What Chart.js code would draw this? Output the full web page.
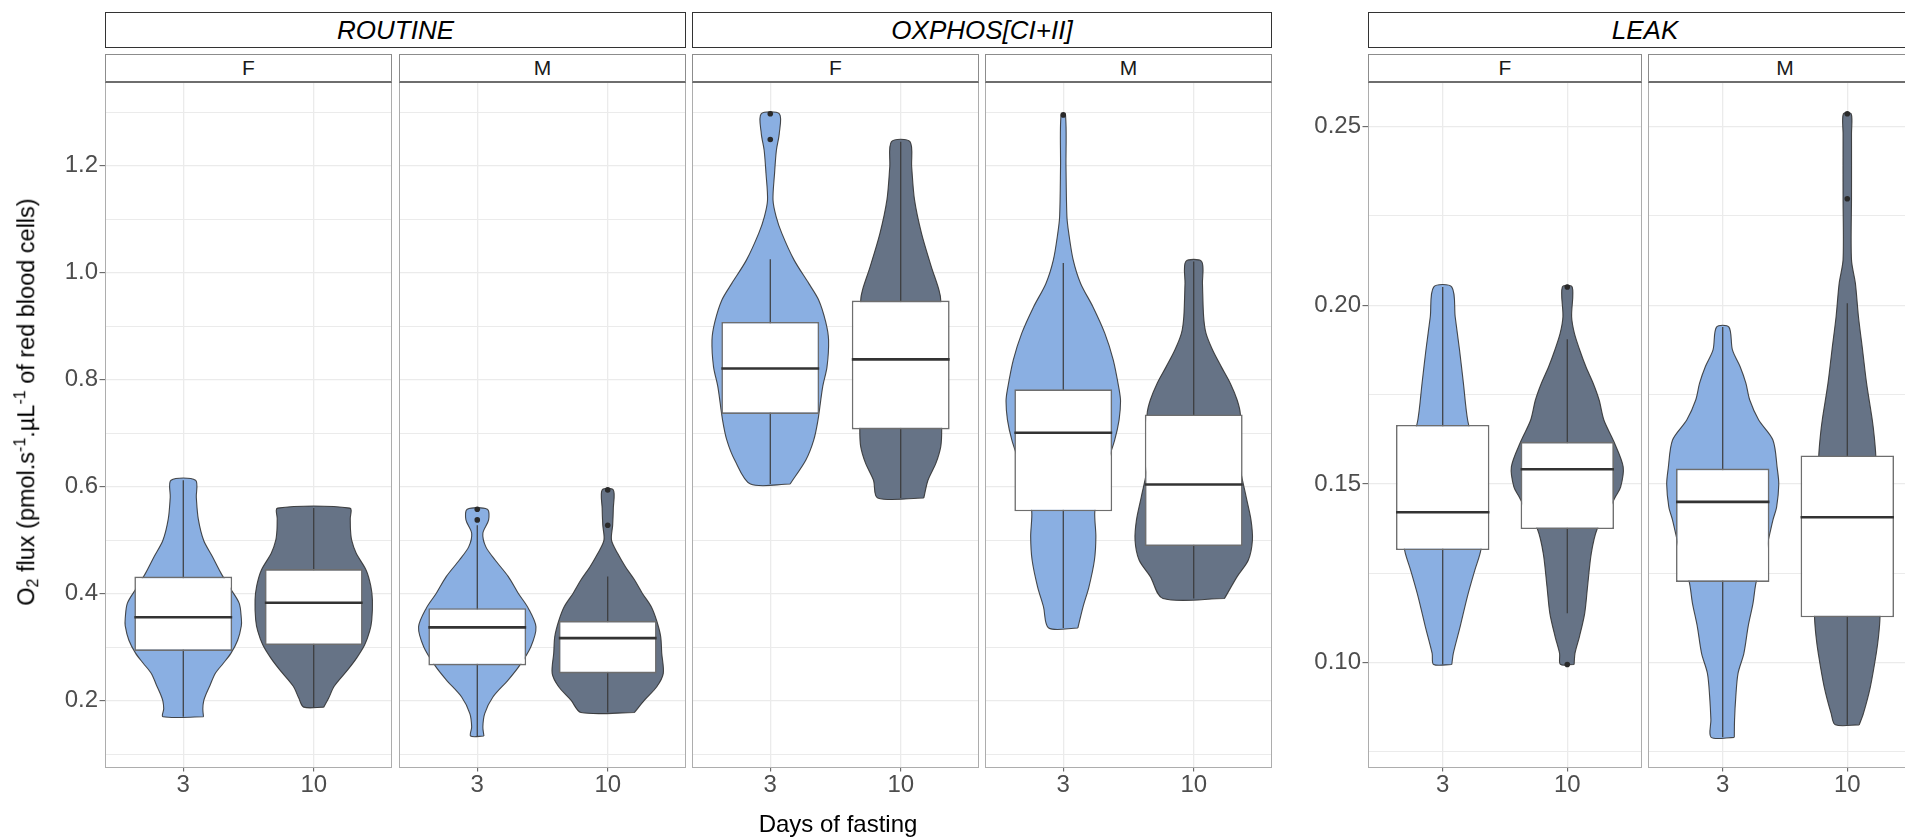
<!DOCTYPE html>
<html>
<head>
<meta charset="utf-8">
<title>O2 flux violin plots</title>
<script src="https://cdn.jsdelivr.net/npm/chart.js@4.4.1/dist/chart.umd.min.js"></script>
<style>
html, body { margin:0; padding:0; background:#fff; }
body { position:relative; width:1905px; height:839px; overflow:hidden; font-family:"Liberation Sans", Arial, Helvetica, sans-serif; }
canvas { position:absolute; z-index:1; }
.strip { position:absolute; box-sizing:border-box; background:#fff; display:flex; align-items:center; justify-content:center; white-space:nowrap; z-index:3; }
.strip.main { border:1.3px solid #333; font-style:italic; font-size:26px; color:#000; }
.strip.sub { border:1.5px solid #8c8c8c; border-bottom:2px solid #6e6e6e; font-size:21px; color:#1a1a1a; }
.frame { position:absolute; box-sizing:border-box; border:1.5px solid #adadad; pointer-events:none; z-index:2; }
.title { position:absolute; white-space:nowrap; color:#000; font-size:24px; line-height:1; z-index:4; }
.title sub { font-size:0.68em; vertical-align:-0.25em; line-height:0; }
.title sup { font-size:0.68em; vertical-align:0.55em; line-height:0; }
#ytitle { left:27px; top:402px; transform:translate(-50%,-50%) rotate(-90deg); font-size:23.5px; }
#xtitle { left:838px; top:812px; transform:translateX(-50%); }
</style>
</head>
<body>
<div id="ytitle" class="title">O<sub>2</sub> flux (pmol.s<sup>-1</sup>.µL<sup>-1</sup> of red blood cells)</div>
<div id="xtitle" class="title">Days of fasting</div>
<script>
// ---------------- DATA ----------------
const groups = ['ROUTINE', 'OXPHOS[CI+II]', 'LEAK'];
const sexes = ['F', 'M'];
const days = ['3', '10'];

const fluxTicks = [0.2, 0.4, 0.6, 0.8, 1.0, 1.2];
const fluxMinor = [0.1, 0.3, 0.5, 0.7, 0.9, 1.1, 1.3];
const fluxRange = [0.0761, 1.3546];
const leakTicks = [0.10, 0.15, 0.20, 0.25];
const leakMinor = [0.075, 0.125, 0.175, 0.225];
const leakRange = [0.0708, 0.2622];

// box statistics per day (3, 10): [lower whisker, Q1, median, Q3, upper whisker]
const routineF_box = [[0.170, 0.293, 0.356, 0.432, 0.612], [0.188, 0.304, 0.383, 0.446, 0.560]];
const routineM_box = [[0.134, 0.266, 0.337, 0.373, 0.528], [0.178, 0.251, 0.317, 0.349, 0.432]];
const oxphosF_box = [[0.605, 0.736, 0.821, 0.908, 1.025], [0.579, 0.707, 0.838, 0.948, 1.245]];
const oxphosM_box = [[0.336, 0.554, 0.701, 0.782, 1.018], [0.391, 0.489, 0.604, 0.735, 1.021]];
const leakF_box = [[0.0995, 0.1315, 0.1421, 0.1665, 0.2051], [0.1138, 0.1374, 0.1541, 0.1618, 0.1905]];
const leakM_box = [[0.0791, 0.1226, 0.1450, 0.1543, 0.1939], [0.0826, 0.1127, 0.1407, 0.1580, 0.2006]];

// outliers per day (3, 10)
const routineF_out = [[], []];
const routineM_out = [[0.538, 0.558], [0.528, 0.594]];
const oxphosF_out = [[1.249, 1.297], []];
const oxphosM_out = [[1.295], []];
const leakF_out = [[], [0.0995, 0.2051]];
const leakM_out = [[], [0.2298, 0.2536]];

// violin outlines, bottom to top: [value, half width in x units]
const routineF_v3 = [[0.170,0.155],[0.185,0.150],[0.200,0.157],[0.213,0.176],[0.230,0.207],[0.251,0.245],[0.270,0.307],[0.289,0.366],[0.313,0.417],[0.340,0.445],[0.354,0.445],[0.382,0.429],[0.410,0.360],[0.438,0.290],[0.470,0.222],[0.500,0.156],[0.540,0.115],[0.580,0.100],[0.612,0.094]];
const routineF_v10 = [[0.188,0.077],[0.205,0.115],[0.227,0.157],[0.258,0.262],[0.280,0.330],[0.304,0.390],[0.330,0.429],[0.351,0.445],[0.388,0.450],[0.415,0.437],[0.444,0.402],[0.476,0.325],[0.500,0.291],[0.519,0.282],[0.540,0.280],[0.560,0.277]];
const routineM_v3 = [[0.134,0.051],[0.151,0.043],[0.176,0.057],[0.207,0.120],[0.239,0.238],[0.266,0.325],[0.301,0.411],[0.338,0.450],[0.373,0.391],[0.401,0.314],[0.432,0.238],[0.463,0.137],[0.488,0.065],[0.513,0.043],[0.538,0.087],[0.558,0.077]];
const routineM_v10 = [[0.178,0.205],[0.201,0.282],[0.226,0.376],[0.251,0.426],[0.289,0.414],[0.320,0.406],[0.349,0.376],[0.376,0.333],[0.401,0.265],[0.426,0.205],[0.450,0.137],[0.475,0.077],[0.500,0.029],[0.528,0.038],[0.560,0.043],[0.594,0.043]];
const oxphosF_v3 = [[0.605,0.152],[0.650,0.273],[0.687,0.333],[0.725,0.366],[0.787,0.402],[0.824,0.435],[0.874,0.447],[0.908,0.425],[0.949,0.371],[0.980,0.295],[1.024,0.182],[1.074,0.088],[1.105,0.045],[1.136,0.021],[1.186,0.033],[1.229,0.047],[1.260,0.069],[1.297,0.070]];
const oxphosF_v10 = [[0.579,0.177],[0.612,0.209],[0.644,0.270],[0.675,0.307],[0.707,0.314],[0.760,0.307],[0.830,0.295],[0.900,0.295],[0.948,0.307],[0.968,0.293],[1.011,0.235],[1.074,0.159],[1.136,0.106],[1.198,0.084],[1.245,0.071]];
const oxphosM_v3 = [[0.336,0.112],[0.376,0.152],[0.413,0.197],[0.463,0.239],[0.507,0.250],[0.554,0.242],[0.600,0.284],[0.650,0.345],[0.687,0.394],[0.725,0.428],[0.760,0.439],[0.782,0.428],[0.837,0.383],[0.887,0.318],[0.936,0.228],[0.980,0.133],[1.024,0.076],[1.074,0.042],[1.105,0.028],[1.198,0.021],[1.295,0.017]];
const oxphosM_v10 = [[0.391,0.236],[0.432,0.333],[0.463,0.419],[0.500,0.450],[0.538,0.439],[0.581,0.402],[0.640,0.353],[0.700,0.345],[0.735,0.358],[0.762,0.333],[0.793,0.281],[0.824,0.212],[0.856,0.144],[0.887,0.094],[0.918,0.076],[0.980,0.067],[1.021,0.061]];
const leakF_v3 = [[0.0995,0.073],[0.1026,0.085],[0.1101,0.140],[0.1185,0.198],[0.1259,0.258],[0.1315,0.306],[0.1400,0.329],[0.1500,0.321],[0.1600,0.257],[0.1679,0.200],[0.1782,0.166],[0.1875,0.135],[0.1968,0.100],[0.2051,0.073]];
const leakF_v10 = [[0.0995,0.055],[0.1026,0.062],[0.1073,0.098],[0.1138,0.140],[0.1213,0.163],[0.1306,0.193],[0.1374,0.240],[0.1420,0.321],[0.1464,0.387],[0.1492,0.429],[0.1548,0.449],[0.1618,0.375],[0.1679,0.294],[0.1735,0.256],[0.1782,0.208],[0.1828,0.150],[0.1875,0.100],[0.1922,0.057],[0.1968,0.035],[0.2051,0.040]];
const leakM_v3 = [[0.0791,0.093],[0.0840,0.095],[0.0905,0.105],[0.0970,0.123],[0.1026,0.170],[0.1101,0.204],[0.1166,0.243],[0.1226,0.269],[0.1300,0.337],[0.1399,0.403],[0.1436,0.433],[0.1499,0.450],[0.1543,0.438],[0.1623,0.403],[0.1679,0.289],[0.1735,0.217],[0.1782,0.186],[0.1828,0.140],[0.1875,0.078],[0.1939,0.050]];
const leakM_v10 = [[0.0826,0.096],[0.0858,0.130],[0.0933,0.186],[0.1026,0.233],[0.1073,0.251],[0.1127,0.263],[0.1250,0.265],[0.1400,0.249],[0.1580,0.229],[0.1632,0.217],[0.1679,0.201],[0.1782,0.155],[0.1875,0.123],[0.1968,0.090],[0.2062,0.065],[0.2127,0.034],[0.2300,0.034],[0.2481,0.034],[0.2536,0.031]];

// lookup tables built from the arrays above
const boxStats = [[routineF_box, routineM_box], [oxphosF_box, oxphosM_box], [leakF_box, leakM_box]];
const outliers = [[routineF_out, routineM_out], [oxphosF_out, oxphosM_out], [leakF_out, leakM_out]];
const violins = [[[routineF_v3, routineF_v10], [routineM_v3, routineM_v10]],
                 [[oxphosF_v3, oxphosF_v10], [oxphosM_v3, oxphosM_v10]],
                 [[leakF_v3, leakF_v10], [leakM_v3, leakM_v10]]];

// ---------------- LAYOUT & STYLE ----------------
const PANEL_TOP = 83, PANEL_H = 684;
const X_AXIS_H = 50, Y_AXIS_W = 80;
const X_MIN = 0.4, X_MAX = 2.6, BOX_HALF = 0.375;
const groupStrip = [{left:105, right:686}, {left:692, right:1272}, {left:1368, right:1922}];
const panelBox = [[{left:105, w:287}, {left:399, w:287}],
                  [{left:692, w:287}, {left:985, w:287}],
                  [{left:1368, w:274}, {left:1648, w:274}]];
const FILL = ['#8aafe2', '#667386'];
const OUTLINE = 'rgba(45,45,45,0.85)';
const GRID = '#ebebeb';
const TICK_COL = '#555';
const LABEL_COL = '#4d4d4d';
const TICK_FONT = 24;

Chart.defaults.font.family = '"Liberation Sans", Arial, Helvetica, sans-serif';

function addDiv(cls, left, top, w, h, text) {
  const d = document.createElement('div');
  d.className = cls;
  d.style.left = left + 'px'; d.style.top = top + 'px';
  d.style.width = w + 'px'; d.style.height = h + 'px';
  if (text) d.textContent = text;
  document.body.appendChild(d);
  return d;
}

function buildPanel(gi, si) {
  const pb = panelBox[gi][si];
  const isLeak = groups[gi] === 'LEAK';
  const major = isLeak ? leakTicks : fluxTicks;
  const minor = isLeak ? leakMinor : fluxMinor;
  const range = isLeak ? leakRange : fluxRange;
  const dec = isLeak ? 2 : 1;
  const showY = si === 0 && (gi === 0 || gi === 2);
  const padL = showY ? Y_AXIS_W : 0;
  const allTicks = major.concat(minor).sort((a, b) => a - b);
  const isMajor = v => major.some(m => Math.abs(m - v) < 1e-9);

  const canvas = document.createElement('canvas');
  const W = pb.w + padL, H = PANEL_H + X_AXIS_H;
  canvas.width = W; canvas.height = H;
  canvas.style.width = W + 'px'; canvas.style.height = H + 'px';
  canvas.style.left = (pb.left - padL) + 'px';
  canvas.style.top = PANEL_TOP + 'px';
  document.body.appendChild(canvas);

  const datasets = [];
  const stats = boxStats[gi][si];
  violins[gi][si].forEach((vio, i) => {
    const c = i + 1;
    const right = vio.map(([v, hw]) => ({x: c + hw, y: v}));
    const left = vio.slice().reverse().map(([v, hw]) => ({x: c - hw, y: v}));
    datasets.push({
      type: 'line', data: right.concat(left, [right[0]]),
      fill: 'shape', backgroundColor: FILL[i], borderColor: OUTLINE, borderWidth: 1.1,
      pointRadius: 0, tension: 0.3, order: 10
    });
    const [lo, q1, med, q3, hi] = stats[i];
    datasets.push({
      type: 'line', data: [{x: c, y: lo}, {x: c, y: hi}],
      borderColor: '#3a3a3a', borderWidth: 1.2, pointRadius: 0, fill: false, tension: 0, order: 8
    });
    datasets.push({
      type: 'line', data: [{x: c - BOX_HALF, y: med}, {x: c + BOX_HALF, y: med}],
      borderColor: '#333', borderWidth: 2.6, pointRadius: 0, fill: false, tension: 0, order: 4
    });
    const outs = outliers[gi][si][i];
    if (outs.length) {
      datasets.push({
        type: 'scatter', data: outs.map(v => ({x: c, y: v})),
        pointRadius: 2.8, pointBackgroundColor: '#2a2a2a', pointBorderWidth: 0, order: 2
      });
    }
  });
  datasets.push({
    type: 'bar', data: stats.map((b, i) => ({x: i + 1, y: [b[1], b[3]]})),
    backgroundColor: '#ffffff', borderColor: '#6e6e6e', borderWidth: 1.6, borderSkipped: false,
    barPercentage: 0.75, categoryPercentage: 1.0, order: 6
  });

  new Chart(canvas, {
    type: 'scatter',
    data: {datasets},
    options: {
      responsive: false, animation: false, devicePixelRatio: 1, events: [],
      layout: {padding: 0, autoPadding: false},
      plugins: {legend: {display: false}, tooltip: {enabled: false}},
      scales: {
        x: {
          type: 'linear', min: X_MIN, max: X_MAX, offset: false,
          afterBuildTicks: s => { s.ticks = days.map((d, k) => ({value: k + 1})); },
          afterFit: s => { s.height = X_AXIS_H; s.paddingLeft = 0; s.paddingRight = 0; },
          grid: {offset: false, color: GRID, lineWidth: 1.3, drawTicks: true, tickLength: 4.5, tickColor: TICK_COL, tickWidth: 1},
          border: {display: false},
          ticks: {
            autoSkip: false, maxRotation: 0, padding: 1.5, color: LABEL_COL,
            font: {size: TICK_FONT, lineHeight: 1},
            callback: v => days[Math.round(v) - 1]
          }
        },
        y: {
          type: 'linear', min: range[0], max: range[1],
          afterBuildTicks: s => { s.ticks = allTicks.map(v => ({value: v})); },
          afterFit: s => { s.width = padL; s.paddingTop = 0; s.paddingBottom = 0; },
          grid: {
            color: GRID, lineWidth: ctx => isMajor(ctx.tick.value) ? 1.3 : 1.0,
            drawTicks: showY, tickLength: 5.5, tickWidth: 1,
            tickColor: ctx => isMajor(ctx.tick.value) ? TICK_COL : 'rgba(0,0,0,0)'
          },
          border: {display: false},
          ticks: {
            display: showY, autoSkip: false, padding: 1.5, color: LABEL_COL,
            font: {size: TICK_FONT, lineHeight: 1},
            callback: v => isMajor(v) ? v.toFixed(dec) : ''
          }
        }
      }
    }
  });

  addDiv('frame', pb.left, PANEL_TOP - 1, pb.w, PANEL_H + 2);
  addDiv('strip sub', pb.left, 54, pb.w, 29, sexes[si]);
}

groups.forEach((g, gi) => {
  const gs = groupStrip[gi];
  addDiv('strip main', gs.left, 12, gs.right - gs.left, 36, g);
  sexes.forEach((s, si) => buildPanel(gi, si));
});
</script>
</body>
</html>
